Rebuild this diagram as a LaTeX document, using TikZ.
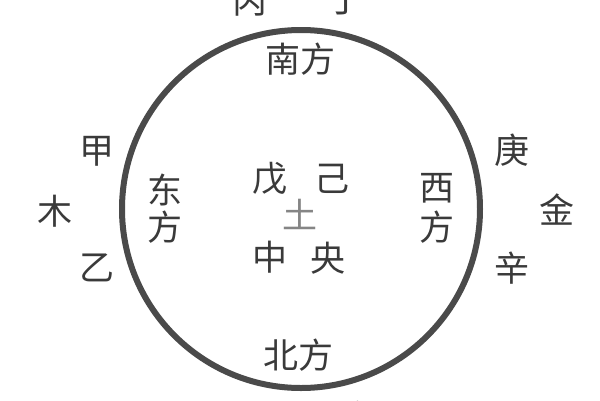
\documentclass[tikz,border=0pt]{standalone}
\usepackage{fontspec}
\setmainfont{Noto Sans CJK SC}
\begin{document}
\begin{tikzpicture}[x=1pt,y=-1pt,
  txt/.style={inner sep=0pt,text=txtcol,font=\fontsize{35}{35}\selectfont},
  light/.style={txt,text=lightcol}]
\definecolor{txtcol}{HTML}{3A3A3A}
\definecolor{circcol}{HTML}{4A4A4A}
\definecolor{lightcol}{HTML}{858585}
\useasboundingbox[fill=white] (0,0) rectangle (600,400);
\clip (0,0) rectangle (600,400);
\draw[circcol,line width=6pt] (301,209) circle[radius=179];
\node[txt] (bing) at (250,1) {丙};
\node[txt] (ding) at (345,1) {丁};
\node[txt] (nan) at (300,59) {南方};
\node[txt] (jia) at (97,151) {甲};
\node[txt] (mu) at (55,211) {木};
\node[txt] (yi) at (97,268) {乙};
\node[txt] (dong1) at (165,190) {东};
\node[txt] (dong2) at (165,227) {方};
\node[txt] (xi1) at (437,188) {西};
\node[txt] (xi2) at (437,227) {方};
\node[txt] (geng) at (512,150) {庚};
\node[txt] (jin) at (557,210) {金};
\node[txt] (xin) at (512,268) {辛};
\node[txt] (wu) at (270,179) {戊};
\node[txt] (ji) at (332,179) {己};
\node[light] (tu) at (300,214) {土};
\node[txt] (zhong) at (270,257) {中};
\node[txt] (yang) at (328,258) {央};
\node[txt] (bei) at (298,355) {北方};
\node[light] (ren) at (254,417) {壬};
\node[light] (gui) at (356,417) {癸};
\end{tikzpicture}
\end{document}
